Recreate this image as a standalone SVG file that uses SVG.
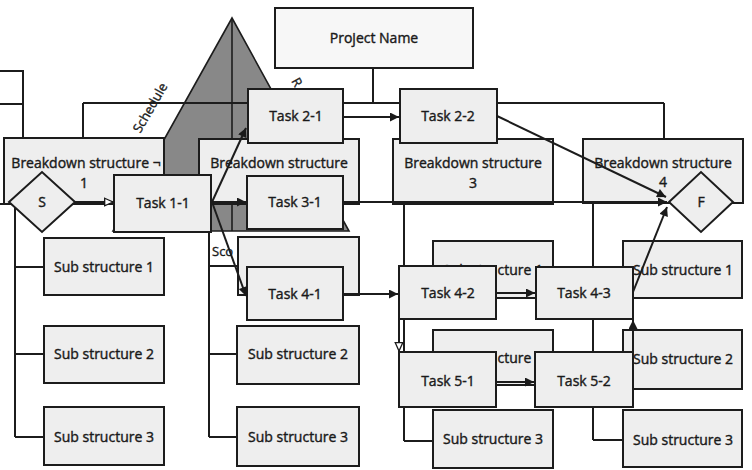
<svg xmlns="http://www.w3.org/2000/svg" width="752" height="470" viewBox="0 0 752 470">
<defs>
<marker id="arr" viewBox="0 0 10 10" refX="10" refY="5" markerWidth="10" markerHeight="9" markerUnits="userSpaceOnUse" orient="auto"><path d="M0,0 L10,5 L0,10 z" fill="#1a1a1a"/></marker>
<marker id="arro" viewBox="0 0 12 12" refX="11" refY="6" markerWidth="11" markerHeight="10" markerUnits="userSpaceOnUse" orient="auto"><path d="M1,1.5 L11,6 L1,10.5 z" fill="#fff" stroke="#1a1a1a" stroke-width="1.6"/></marker>
<style>
.box{fill:#eeeeee;stroke:#1c1c1c;stroke-width:2}
.pbox{fill:#f7f7f7;stroke:#1c1c1c;stroke-width:2}
.wbs{fill:none;stroke:#1c1c1c;stroke-width:2}
.arw{fill:none;stroke:#1c1c1c;stroke-width:2;marker-end:url(#arr)}
.arwo{fill:none;stroke:#1c1c1c;stroke-width:2;marker-end:url(#arro)}
.t{font-family:"Open Sans","Noto Sans","Liberation Sans",sans-serif;font-size:14px;fill:#1a1a1a;stroke:#1a1a1a;stroke-width:0.4;text-anchor:middle}
.lbl{font-family:"Open Sans","Noto Sans","Liberation Sans",sans-serif;font-size:13px;fill:#1a1a1a;stroke:#1a1a1a;stroke-width:0.35}
</style>
</defs>
<rect width="752" height="470" fill="#fff"/>

<g id="pyramid">
<polygon points="232,18 113,231 349,231" fill="#888888" stroke="#1c1c1c" stroke-width="1.6"/>
<line x1="232" y1="18" x2="232" y2="231" stroke="#1c1c1c" stroke-width="1.6"/>
<text class="lbl" transform="translate(154,110) rotate(-60)" text-anchor="middle">Schedule</text>
<text class="lbl" transform="translate(291,81) rotate(60)">R</text>
<text class="lbl" x="212" y="256">Sco</text>
</g>

<g id="wbs-connectors">
<path class="wbs" d="M373,68 V103 M83,103 H664 M83,103 V138 M279,103 V139 M473,103 V139 M664,103 V139
M0,71 H23 V138 M0,104 H23
M0,204 H15 V437 M15,267 H44 M15,354 H44 M15,437 H44
M209,204 V437 M209,266 H238 M209,354 H237 M209,437 H237
M404,204 V441 M404,269 H433 M404,358 H433 M404,441 H433
M593,203 V440 M593,269 H623 M593,359 H623 M593,440 H623"/>
</g>

<g id="project-name"><rect class="pbox" x="275" y="8" width="198" height="60"/><text class="t" x="374" y="43">Project Name</text></g>

<g id="breakdown-1"><rect class="box" x="4" y="138" width="160" height="66"/><text class="t" x="86" y="168">Breakdown structure ¬</text><text class="t" x="84" y="188">1</text></g>
<g id="breakdown-2"><rect class="box" x="199" y="139" width="160" height="65"/><text class="t" x="279" y="168">Breakdown structure</text></g>
<g id="breakdown-3"><rect class="box" x="393" y="139" width="160" height="65"/><text class="t" x="473" y="168">Breakdown structure</text><text class="t" x="473" y="188">3</text></g>
<g id="breakdown-4"><rect class="box" x="583" y="139" width="160" height="64"/><text class="t" x="663" y="168">Breakdown structure</text><text class="t" x="663" y="187">4</text></g>

<g id="sub-1-1"><rect class="box" x="44" y="238" width="120" height="57"/><text class="t" x="104" y="272">Sub structure 1</text></g>
<g id="sub-1-2"><rect class="box" x="44" y="326" width="120" height="57"/><text class="t" x="104" y="359">Sub structure 2</text></g>
<g id="sub-1-3"><rect class="box" x="44" y="407" width="120" height="58"/><text class="t" x="104" y="442">Sub structure 3</text></g>

<g id="sub-2-1"><rect class="box" x="238" y="237" width="121" height="58"/></g>
<g id="sub-2-2"><rect class="box" x="237" y="326" width="122" height="58"/><text class="t" x="298" y="359">Sub structure 2</text></g>
<g id="sub-2-3"><rect class="box" x="237" y="407" width="122" height="59"/><text class="t" x="298" y="442">Sub structure 3</text></g>

<g id="sub-3-1"><rect class="box" x="433" y="241" width="120" height="57"/><text class="t" x="493" y="275">Sub structure 1</text></g>
<g id="sub-3-2"><rect class="box" x="433" y="330" width="120" height="55"/><text class="t" x="493" y="363">Sub structure 2</text></g>
<g id="sub-3-3"><rect class="box" x="433" y="410" width="120" height="58"/><text class="t" x="493" y="444">Sub structure 3</text></g>

<g id="sub-4-1"><rect class="box" x="623" y="241" width="119" height="57"/><text class="t" x="683" y="275">Sub structure 1</text></g>
<g id="sub-4-2"><rect class="box" x="623" y="330" width="119" height="59"/><text class="t" x="683" y="364">Sub structure 2</text></g>
<g id="sub-4-3"><rect class="box" x="623" y="410" width="119" height="57"/><text class="t" x="683" y="445">Sub structure 3</text></g>

<g id="task-2-1"><rect class="box" x="248" y="89" width="95" height="54"/><text class="t" x="296" y="121">Task 2-1</text></g>
<g id="task-2-2"><rect class="box" x="400" y="89" width="97" height="54"/><text class="t" x="448" y="121">Task 2-2</text></g>
<g id="task-1-1"><rect class="box" x="114" y="175" width="97" height="57"/><text class="t" x="163" y="208">Task 1-1</text></g>
<g id="task-3-1"><rect class="box" x="247" y="176" width="96" height="53"/><text class="t" x="295" y="207">Task 3-1</text></g>
<g id="task-4-1"><rect class="box" x="247" y="267" width="96" height="53"/><text class="t" x="295" y="299">Task 4-1</text></g>
<g id="task-4-2"><rect class="box" x="399" y="266" width="97" height="53"/><text class="t" x="448" y="298">Task 4-2</text></g>
<g id="task-4-3"><rect class="box" x="536" y="267" width="97" height="52"/><text class="t" x="584" y="298">Task 4-3</text></g>
<g id="task-5-1"><rect class="box" x="399" y="352" width="97" height="55"/><text class="t" x="448" y="386">Task 5-1</text></g>
<g id="task-5-2"><rect class="box" x="535" y="352" width="98" height="55"/><text class="t" x="584" y="386">Task 5-2</text></g>

<g id="start"><polygon class="box" points="9,202 42,172 75,202 42,232"/><text class="t" x="42" y="207">S</text></g>
<g id="finish"><polygon class="box" points="669,202 701,172 733,202 701,232"/><text class="t" x="701" y="207">F</text></g>

<g id="connectors">
<path class="arwo" d="M75,202 H113"/>
<path class="arw" d="M212,202 L246,128"/>
<path class="arw" d="M212,202 H246"/>
<path class="arw" d="M212,202 L246,296"/>
<path class="arw" d="M343,117 H399"/>
<path class="arw" d="M497,116 L666,197"/>
<path class="arw" d="M343,202 H667"/>
<path class="arw" d="M343,294 H398"/>
<path class="arw" d="M496,293 H535"/>
<path class="arwo" d="M399,319 V351"/>
<path class="arw" d="M496,382 H534"/>
<path class="arw" d="M633,352 V320"/>
<path class="arw" d="M633,292 L667,207"/>
</g>
</svg>
